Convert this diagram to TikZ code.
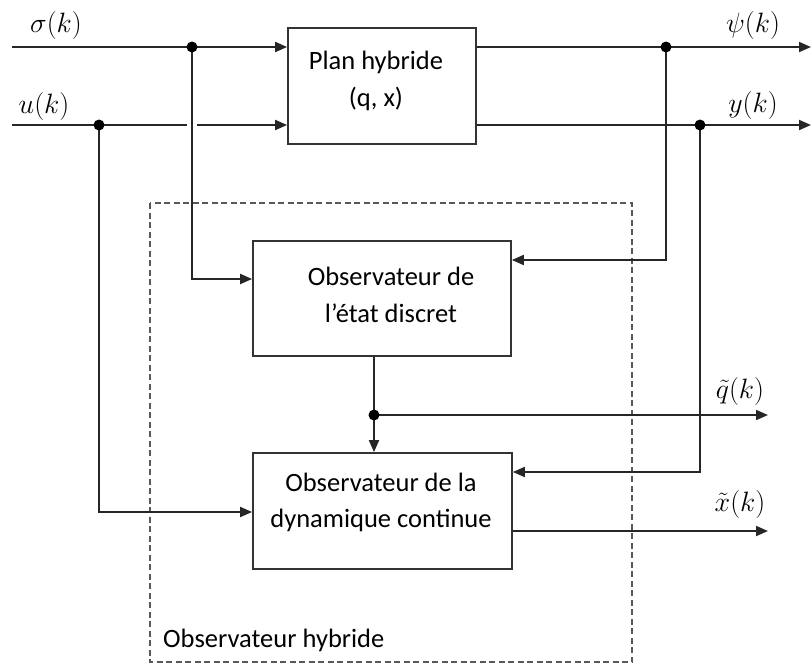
\RequirePackage{fix-cm}
\documentclass[tikz,border=0pt]{standalone}
\usepackage{fontspec}
\setmainfont{Carlito}
\usetikzlibrary{arrows.meta}
\begin{document}
\begin{tikzpicture}[x=1pt,y=-1pt,
  line/.style={draw=black!85,line width=1.9pt},
  arr/.style={line,-{Triangle[length=12pt,width=10pt]}},
  blk/.style={draw=black!80,line width=1.8pt,rectangle,inner sep=0pt},
  dot/.style={circle,fill=black,inner sep=0pt,minimum size=11pt},
  txt/.style={font=\fontsize{26.5}{31}\selectfont,anchor=base,inner sep=0pt},
  lbl/.style={font=\fontsize{28}{33}\selectfont,inner sep=0pt},
  frame/.style={draw=black!65,line width=1.1pt,dash pattern=on 6pt off 3.5pt}]
\useasboundingbox (0,0) rectangle (811,665);

% frame of hybrid observer
\draw[frame] (150,203) rectangle (632,662);
\node[txt,anchor=base west] (obsh) at (163,647) {Observateur hybride};

% blocks
\node[blk,minimum width=188pt,minimum height=116pt] (plan) at (382,86) {};
\node[blk,minimum width=258pt,minimum height=115pt] (disc) at (382,298.5) {};
\node[blk,minimum width=259pt,minimum height=116pt] (cont) at (382.5,511) {};

\node[txt] (t1) at (376,69) {Plan hybride};
\node[txt] (t2) at (376,106) {(q, x)};
\node[txt] (t3) at (391,285) {Observateur de};
\node[txt] (t4) at (391,322) {l’état discret};
\node[txt] (t5) at (381,491) {Observateur de la};
\node[txt] (t6) at (381,527) {dynamique continue};

% coordinates
\coordinate (s0) at (12,47);
\coordinate (sdot) at (192,47);
\coordinate (psidot) at (666,47);
\coordinate (psiend) at (811,47);
\coordinate (u0) at (12,125);
\coordinate (udot) at (99,125);
\coordinate (ydot) at (700,125);
\coordinate (yend) at (811,125);
\coordinate (s1) at (192,279);
\coordinate (p1) at (666,260);
\coordinate (qdot) at (374,415);
\coordinate (qend) at (768,415);
\coordinate (y1) at (700,472);
\coordinate (u1) at (99,512);
\coordinate (xend) at (768,531);

% inputs
\draw[line] (s0) -- (sdot);
\draw[arr] (sdot) -- (plan.west |- sdot);
\draw[line] (u0) -- (udot);
\draw[arr] (udot) -- (plan.west |- udot);
\draw[white,line width=3pt] (187,125) -- (197,125);

% outputs
\draw[line] (plan.east |- psidot) -- (psidot);
\draw[arr] (psidot) -- (psiend);
\draw[line] (plan.east |- ydot) -- (ydot);
\draw[arr] (ydot) -- (yend);

% feedbacks
\draw[arr] (sdot) -- (s1) -- (disc.west |- s1);
\draw[arr] (psidot) -- (p1) -- (disc.east |- p1);
\draw[line] (disc.south -| qdot) -- (qdot);
\draw[arr] (qdot) -- (cont.north -| qdot);
\draw[arr] (qdot) -- (qend);
\draw[arr] (ydot) -- (y1) -- (cont.east |- y1);
\draw[arr] (udot) -- (u1) -- (cont.west |- u1);
\draw[arr] (cont.east |- xend) -- (xend);

% dots
\node[dot] (d1) at (sdot) {};
\node[dot] (d2) at (udot) {};
\node[dot] (d3) at (psidot) {};
\node[dot] (d4) at (ydot) {};
\node[dot] (d5) at (qdot) {};

% labels
\node[lbl] (ls) at (56,25) {$\sigma(k)$};
\node[lbl] (lu) at (44,106) {$u(k)$};
\node[lbl] (lpsi) at (753,25) {$\psi(k)$};
\node[lbl] (ly) at (753,105) {$y(k)$};
\node[lbl] (lq) at (740,391) {$\tilde{q}(k)$};
\node[lbl] (lx) at (740,504) {$\tilde{x}(k)$};
\end{tikzpicture}
\end{document}
